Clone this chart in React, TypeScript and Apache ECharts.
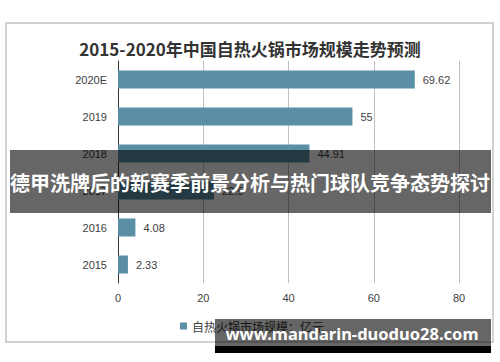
import React, { useEffect, useRef } from "react";
import * as echarts from "echarts";

const categories = ["2015", "2016", "2017", "2018", "2019", "2020E"];
const marketSize = [2.33, 4.08, 22.5, 44.91, 55, 69.62];
const xTicks = [0, 20, 40, 60, 80];
const titleText = "2015-2020年中国自热火锅市场规模走势预测";
const seriesName = "自热火锅市场规模：亿元";
const bannerText = "德甲洗牌后的新赛季前景分析与热门球队竞争态势探讨";
const watermarkText = "www.mandarin-duoduo28.com";

const FONT = "'Liberation Sans', 'Noto Sans CJK SC', sans-serif";
const CJK = "'Noto Sans CJK SC', sans-serif";

export default function App() {
  const ref = useRef<HTMLDivElement>(null);
  useEffect(() => {
    if (!ref.current) return;
    const chart = echarts.init(ref.current, null, { renderer: "svg" });
    chart.setOption({
      animation: false,
      backgroundColor: "#ffffff",
      title: {
        text: titleText,
        left: "center",
        top: 35,
        textStyle: { fontFamily: CJK, fontSize: 17, fontWeight: "bold", color: "#333333" },
      },
      legend: {
        data: [seriesName],
        left: 175,
        top: 315,
        icon: "rect",
        itemWidth: 7,
        itemHeight: 7,
        itemGap: 4,
        textStyle: { fontFamily: CJK, fontSize: 12, color: "#404040" },
      },
      grid: { left: 118, right: 41, top: 61, bottom: 79, containLabel: false },
      xAxis: {
        type: "value",
        min: xTicks[0],
        max: xTicks[xTicks.length - 1],
        interval: 20,
        axisLine: { show: false },
        axisTick: { show: false },
        splitLine: { show: true, lineStyle: { color: "#c0c0c0", width: 1 } },
        axisLabel: { margin: 9, fontFamily: FONT, fontSize: 11, color: "#404040" },
      },
      yAxis: {
        type: "category",
        data: categories,
        axisLine: { show: true, lineStyle: { color: "#333333", width: 1 } },
        axisTick: { show: false },
        axisLabel: { margin: 11, fontFamily: FONT, fontSize: 11, color: "#404040" },
      },
      series: [
        {
          name: seriesName,
          type: "bar",
          data: marketSize,
          barWidth: 18,
          itemStyle: { color: "#5b8fa6" },
          label: {
            show: true,
            position: "right",
            distance: 8,
            fontFamily: FONT,
            fontSize: 11,
            color: "#404040",
          },
        },
      ],
      graphic: [
        {
          type: "rect",
          z: 1,
          shape: { x: 6, y: 23, width: 487, height: 319 },
          style: { fill: "none", stroke: "#c4c4c4", lineWidth: 1.5 },
        },
        {
          type: "rect",
          z: 100,
          shape: { x: 10, y: 150, width: 481, height: 63 },
          style: { fill: "rgba(0,0,0,0.6)" },
        },
        {
          type: "text",
          z: 101,
          x: 250,
          y: 182,
          style: {
            text: bannerText,
            fill: "#ffffff",
            fontFamily: CJK,
            fontWeight: "bold",
            fontSize: 20,
            align: "center",
            verticalAlign: "middle",
          },
        },
        {
          type: "rect",
          z: 100,
          shape: { x: 215, y: 319, width: 276, height: 27 },
          style: { fill: "rgba(0,0,0,0.6)" },
        },
        {
          type: "rect",
          z: 100,
          shape: { x: 215, y: 346, width: 276, height: 7 },
          style: { fill: "#000000" },
        },
        {
          type: "text",
          z: 101,
          x: 352,
          y: 333,
          style: {
            text: watermarkText,
            fill: "#ffffff",
            fontFamily: "'Noto Sans', sans-serif",
            fontWeight: "bold",
            fontSize: 16.5,
            align: "center",
            verticalAlign: "middle",
          },
        },
      ],
    });
    return () => chart.dispose();
  }, []);
  return (
    <div
      ref={ref}
      style={{ position: "absolute", left: 0, top: 0, width: 500, height: 362 }}
    />
  );
}
